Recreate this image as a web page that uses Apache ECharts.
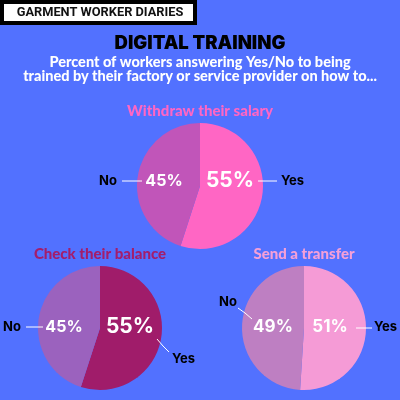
<!DOCTYPE html>
<html>
<head>
<meta charset="utf-8">
<script src="https://cdn.jsdelivr.net/npm/echarts@6/dist/echarts.min.js"></script>
<style>
html,body{margin:0;padding:0;background:#5271FF;}
#main{width:400px;height:400px;}
</style>
</head>
<body>
<div id="main"></div>
<script>
// 数据begin
var answers = ['Yes', 'No'];
var salaryValues = [55, 45];
var balanceValues = [55, 45];
var transferValues = [51, 49];
var pieTitles = ['Withdraw their salary', 'Check their balance', 'Send a transfer'];
// 数据end

var chart = echarts.init(document.getElementById('main'));

// 每个饼图: 圆心, 半径, 颜色, 标签位置(相对圆心)
var pies = [
    {values: salaryValues, center: [200, 186], r: 63, title: '#FF66C4', colors: ['#FF66C4', '#C155B9'],
     pct: [[30, -5, 21], [-36, -5, 16]],
     outer: [[81, -5, 'left', [[58, -5], [68, -5], [77, -5]]], [-83, -5, 'right', [[-58, -5], [-68, -5], [-78, -5]]]]},
    {values: balanceValues, center: [100, 328], r: 62, title: '#A31D6C', colors: ['#A01C6A', '#9B62BE'],
     pct: [[30, -1, 21], [-36, -1, 16]],
     outer: [[72, 31, 'left', [[57, 11], [63, 18], [69, 24]]], [-79, -1, 'right', [[-57, -1], [-66, -1], [-74, -1]]]]},
    {values: transferValues, center: [304, 328], r: 62, title: '#F5A0D8', colors: ['#F59BD6', '#BE7FC2'],
     pct: [[26, -1, 17], [-31, -1, 17]],
     outer: [[70, -1, 'left', [[52, 0], [60, 0], [68, 0]]], [-67, -26, 'right', [[-52, -9], [-59, -15], [-66, -20]]]]}
];
var titleY = [104, 247, 247];

var series = [];
var titles = [];
pies.forEach(function (p, k) {
    var data = answers.map(function (a, i) {
        return {name: a, value: p.values[i], itemStyle: {color: p.colors[i]},
            label: {fontSize: p.pct[i][2]}};
    });
    titles.push({
        text: pieTitles[k], left: p.center[0], top: titleY[k], textAlign: 'center', padding: 0,
        textStyle: {color: p.title, fontSize: 15, fontWeight: 900, fontFamily: 'Lato'}
    });
    // 百分比
    series.push({
        type: 'pie', center: p.center, radius: p.r, startAngle: 90, clockwise: true,
        silent: true, data: data,
        label: {position: 'inside', formatter: '{c}%', color: '#fff', fontWeight: 'bold', fontFamily: 'Inter'},
        labelLayout: function (params) {
            var o = p.pct[params.dataIndex];
            return {x: p.center[0] + o[0], y: p.center[1] + o[1], align: 'center', verticalAlign: 'middle'};
        }
    });
    // Yes / No 外标签
    series.push({
        type: 'pie', center: p.center, radius: p.r, startAngle: 90, clockwise: true,
        silent: true, z: 3, avoidLabelOverlap: false,
        data: answers.map(function (a, i) {
            return {name: a, value: p.values[i], itemStyle: {color: 'rgba(0,0,0,0)'}};
        }),
        label: {position: 'outside', formatter: '{b}', color: '#000', fontSize: 13, fontWeight: 'bold',
            fontFamily: 'Inter', overflow: 'none', alignTo: 'none'},
        labelLine: {show: true, length: 4, length2: 4, lineStyle: {color: '#fff', width: 1}},
        labelLayout: function (params) {
            var o = p.outer[params.dataIndex];
            return {
                x: p.center[0] + o[0], y: p.center[1] + o[1], align: o[2], verticalAlign: 'middle',
                labelLinePoints: o[3].map(function (q) { return [p.center[0] + q[0], p.center[1] + q[1]]; })
            };
        }
    });
});

titles.push({
    text: 'DIGITAL TRAINING', left: 200, top: 34, textAlign: 'center', padding: 0,
    textStyle: {color: '#000', fontSize: 18.5, fontWeight: 900, fontFamily: 'Inter'}
});
titles.push({
    text: 'Percent of workers answering Yes/No to being\ntrained by their factory or service provider on how to...',
    left: 200, top: 55, textAlign: 'center', padding: 0,
    textStyle: {color: '#fff', fontSize: 14.5, fontWeight: 900, fontFamily: 'Lato', lineHeight: 14.5, align: 'center'}
});

var option = {
    backgroundColor: '#5271FF',
    animation: false,
    title: titles,
    graphic: [
        {type: 'rect', shape: {x: 2, y: 2, width: 193, height: 21},
         style: {fill: '#fff', stroke: '#000', lineWidth: 4}},
        {type: 'text', x: 100, y: 13,
         style: {text: 'GARMENT WORKER DIARIES', fill: '#111', font: 'bold 12.8px Roboto', textAlign: 'center', textVerticalAlign: 'middle'}}
    ],
    series: series
};
chart.setOption(option);
</script>
</body>
</html>
